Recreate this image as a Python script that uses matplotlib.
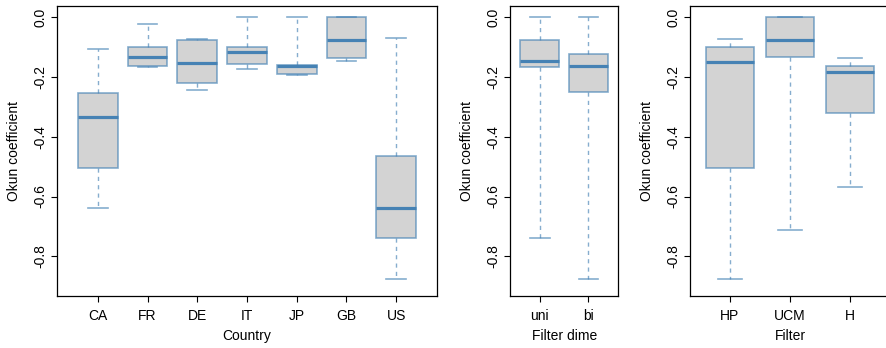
import numpy as np
import matplotlib.pyplot as plt
from matplotlib.ticker import FormatStrFormatter

plt.rcParams['font.family'] = ['Liberation Sans', 'DejaVu Sans']
plt.rcParams['axes.unicode_minus'] = False

# Okun coefficients by country: whisker low, Q1, median, Q3, whisker high
countries = ['CA', 'FR', 'DE', 'IT', 'JP', 'GB', 'US']
country_lo = [-0.639, -0.167, -0.242, -0.174, -0.193, -0.145, -0.875]
country_q1 = [-0.503, -0.164, -0.220, -0.157, -0.190, -0.136, -0.739]
country_med = [-0.334, -0.132, -0.152, -0.117, -0.162, -0.076, -0.639]
country_q3 = [-0.253, -0.099, -0.077, -0.099, -0.160, 0.0, -0.465]
country_hi = [-0.107, -0.022, -0.074, 0.0, 0.0, 0.0, -0.070]

# by filter dimension
dims = ['uni', 'bi']
dim_lo = [-0.740, -0.875]
dim_q1 = [-0.167, -0.251]
dim_med = [-0.147, -0.164]
dim_q3 = [-0.077, -0.124]
dim_hi = [0.0, 0.0]

# by filter
filters = ['HP', 'UCM', 'H']
filt_lo = [-0.875, -0.712, -0.567]
filt_q1 = [-0.503, -0.133, -0.320]
filt_med = [-0.151, -0.076, -0.183]
filt_q3 = [-0.099, 0.0, -0.162]
filt_hi = [-0.074, 0.0, -0.136]

yticks = [0.0, -0.2, -0.4, -0.6, -0.8]

W, H = 887, 348
fig = plt.figure(figsize=(W / 100, H / 100), dpi=100)

edge = (0.27, 0.51, 0.71, 0.65)
blue = '#4682B4'


def make_panel(rect_px, labels, lo, q1, med, q3, hi, xlabel):
    x0, x1 = rect_px
    top, bottom = 6, 296
    ax = fig.add_axes([x0 / W, 1 - bottom / H, (x1 - x0) / W, (bottom - top) / H])
    stats = []
    for i in range(len(labels)):
        stats.append(dict(whislo=lo[i], q1=q1[i], med=med[i], q3=q3[i],
                          whishi=hi[i], label=labels[i]))
    n = len(labels)
    ax.bxp(stats, positions=np.arange(1, n + 1), widths=0.8, showfliers=False,
           patch_artist=True,
           boxprops=dict(facecolor='#D3D3D3', edgecolor=edge, linewidth=1.2),
           medianprops=dict(color=blue, linewidth=2.3, solid_capstyle='butt'),
           whiskerprops=dict(color=edge, linewidth=1.0, linestyle=(0, (3, 3))),
           capprops=dict(color=edge, linewidth=1.2),
           capwidths=0.4)
    pad = (n + 1) * 0.04
    ax.set_xlim(0.5 - pad, n + 0.5 + pad)
    ax.set_ylim(-0.933, 0.038)
    ax.set_yticks(yticks)
    ax.yaxis.set_major_formatter(FormatStrFormatter('%.1f'))
    ax.tick_params(axis='y', labelrotation=90, length=4, width=0.8, pad=3, labelsize=10)
    ax.tick_params(axis='x', length=4, width=0.8, pad=5, labelsize=10)
    for lbl in ax.get_yticklabels():
        lbl.set_va('center')
    for s in ax.spines.values():
        s.set_linewidth(0.9)
    ax.set_ylabel('Okun coefficient', fontsize=10)
    ax.yaxis.set_label_coords(-36 / (x1 - x0), 0.5)
    ax.set_xlabel(xlabel, fontsize=10)
    ax.xaxis.set_label_coords(0.5, -33 / (bottom - top))
    return ax


make_panel((57, 437), countries, country_lo, country_q1, country_med, country_q3,
           country_hi, 'Country')
make_panel((509.8, 618.5), dims, dim_lo, dim_q1, dim_med, dim_q3, dim_hi, 'Filter dime')
make_panel((690.1, 890), filters, filt_lo, filt_q1, filt_med, filt_q3, filt_hi, 'Filter')

fig.savefig('out.png', dpi=100)
